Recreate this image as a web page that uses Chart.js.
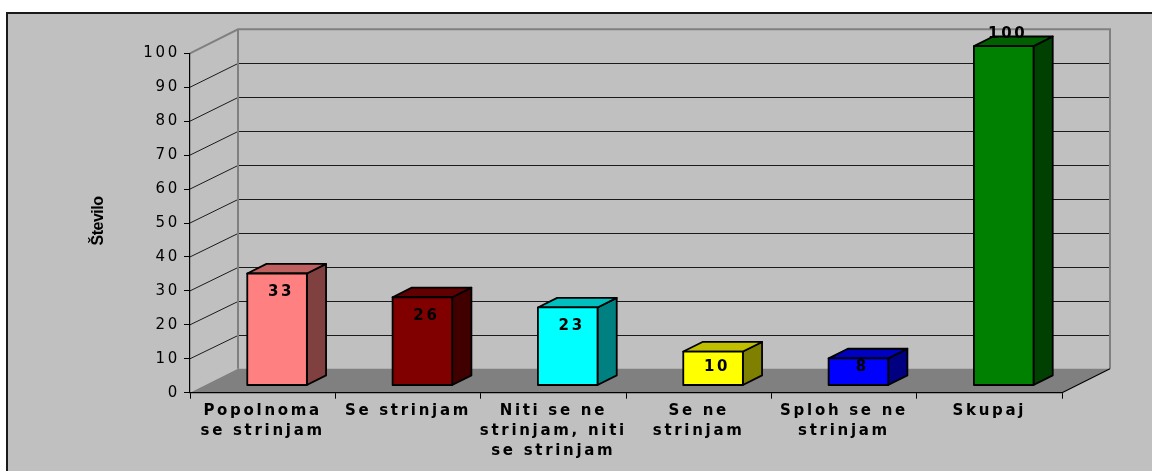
<!DOCTYPE html>
<html>
<head>
<meta charset="utf-8">
<script src="https://cdn.jsdelivr.net/npm/chart.js@4"></script>
<style>
  html, body { margin: 0; padding: 0; background: #fff; overflow: hidden; }
  #box {
    position: absolute; left: 6px; top: 12px;
    width: 1200px; height: 500px;
    border: 2px solid #1a1a1a;
    background: #c0c0c0;
  }
  canvas { display: block; }
</style>
</head>
<body>
<div id="box"><canvas id="chart" width="1144" height="457"></canvas></div>
<script>
const categories = [
  ['Popolnoma', 'se strinjam'],
  ['Se strinjam'],
  ['Niti se ne', 'strinjam, niti', 'se strinjam'],
  ['Se ne', 'strinjam'],
  ['Sploh se ne', 'strinjam'],
  ['Skupaj']
];
const values = [33, 26, 23, 10, 8, 100];
const barColors = ['#ff8080', '#800000', '#00ffff', '#ffff00', '#0000ff', '#008000'];
const yMin = 0;
const yMax = 100;
const yStep = 10;
const yTitle = 'Število';

// 3d look: depth vector of the plot box, bars sit between 30% and 70% of it
const DEPTH_X = 48;
const DEPTH_Y = -24;
const BAR_FRONT = 0.3;
const BAR_BACK = 0.7;
const SPACING = '2.7px';

function shade(hex, f) {
  const n = parseInt(hex.slice(1), 16);
  const r = Math.round(((n >> 16) & 255) * f);
  const g = Math.round(((n >> 8) & 255) * f);
  const b = Math.round((n & 255) * f);
  return `rgb(${r},${g},${b})`;
}

const crisp = v => Math.round(v) + 0.5;

const box3d = {
  id: 'box3d',
  beforeDraw(chart) {
    const ctx = chart.ctx;
    ctx.letterSpacing = SPACING;
    const { left, right } = chart.chartArea;
    const ys = chart.scales.y;
    const y0 = ys.getPixelForValue(yMin);
    const yTop = ys.getPixelForValue(yMax);

    ctx.save();
    // gridlines on back wall and left wall
    ctx.lineWidth = 1;
    for (let v = yMin + yStep; v < yMax; v += yStep) {
      const y = ys.getPixelForValue(v);
      ctx.strokeStyle = '#1a1a1a';
      ctx.beginPath();
      ctx.moveTo(left + DEPTH_X, crisp(y + DEPTH_Y));
      ctx.lineTo(right + DEPTH_X, crisp(y + DEPTH_Y));
      ctx.stroke();
      ctx.beginPath();
      ctx.moveTo(left, y);
      ctx.lineTo(left + DEPTH_X, crisp(y + DEPTH_Y));
      ctx.stroke();
    }

    // wall edges (grey)
    ctx.strokeStyle = '#808080';
    ctx.lineWidth = 2;
    ctx.beginPath();
    ctx.moveTo(left, yTop);
    ctx.lineTo(left + DEPTH_X, yTop + DEPTH_Y);
    ctx.lineTo(right + DEPTH_X, yTop + DEPTH_Y);
    ctx.lineTo(right + DEPTH_X, y0 + DEPTH_Y);
    ctx.moveTo(left + DEPTH_X, yTop + DEPTH_Y);
    ctx.lineTo(left + DEPTH_X, y0 + DEPTH_Y);
    ctx.stroke();

    // floor
    ctx.fillStyle = '#808080';
    ctx.beginPath();
    ctx.moveTo(left, y0);
    ctx.lineTo(right, y0);
    ctx.lineTo(right + DEPTH_X, y0 + DEPTH_Y);
    ctx.lineTo(left + DEPTH_X, y0 + DEPTH_Y);
    ctx.closePath();
    ctx.fill();
    ctx.strokeStyle = '#000';
    ctx.lineWidth = 1.2;
    ctx.beginPath();
    ctx.moveTo(right, y0);
    ctx.lineTo(right + DEPTH_X, y0 + DEPTH_Y);
    ctx.stroke();
    ctx.restore();
  },
  afterDatasetsDraw(chart) {
    const ctx = chart.ctx;
    const ys = chart.scales.y;
    const meta = chart.getDatasetMeta(0);
    const fx = DEPTH_X * BAR_FRONT, fy = DEPTH_Y * BAR_FRONT;
    const dx = DEPTH_X * (BAR_BACK - BAR_FRONT), dy = DEPTH_Y * (BAR_BACK - BAR_FRONT);

    ctx.save();
    ctx.lineWidth = 1.8;
    ctx.strokeStyle = '#000';
    ctx.lineJoin = 'round';
    meta.data.forEach((el, i) => {
      const p = el.getProps(['x', 'y', 'base', 'width'], true);
      const x1 = p.x - p.width / 2 + fx, x2 = p.x + p.width / 2 + fx;
      const top = p.y + fy, bot = p.base + fy;
      const col = barColors[i];

      // side
      ctx.fillStyle = shade(col, 0.5);
      ctx.beginPath();
      ctx.moveTo(x2, bot); ctx.lineTo(x2 + dx, bot + dy);
      ctx.lineTo(x2 + dx, top + dy); ctx.lineTo(x2, top);
      ctx.closePath(); ctx.fill(); ctx.stroke();
      // top
      ctx.fillStyle = shade(col, 0.75);
      ctx.beginPath();
      ctx.moveTo(x1, top); ctx.lineTo(x1 + dx, top + dy);
      ctx.lineTo(x2 + dx, top + dy); ctx.lineTo(x2, top);
      ctx.closePath(); ctx.fill(); ctx.stroke();
      // front
      ctx.fillStyle = col;
      ctx.fillRect(x1, top, x2 - x1, bot - top);
      ctx.strokeRect(x1, top, x2 - x1, bot - top);
    });

    // value labels
    ctx.fillStyle = '#000';
    ctx.font = 'bold 15px "DejaVu Sans"';
    ctx.letterSpacing = SPACING;
    ctx.textAlign = 'center';
    ctx.textBaseline = 'middle';
    meta.data.forEach((el, i) => {
      const p = el.getProps(['x', 'y', 'base'], true);
      const top = p.y + fy, bot = p.base + fy;
      let ly = values[i] >= yMax ? top - 12 : top + 19;
      if (values[i] < yMax) ly = Math.min(ly, bot - 18);
      ctx.fillText(String(values[i]), p.x + fx + 4, ly);
    });
    ctx.restore();
  },
  afterDraw(chart) {
    const ctx = chart.ctx;
    const { top, bottom } = chart.chartArea;
    ctx.save();
    ctx.translate(chart.scales.y.left + 91, (top + bottom) / 2 - 2);
    ctx.rotate(-Math.PI / 2);
    ctx.letterSpacing = '-0.5px';
    ctx.font = 'bold 16px "Liberation Sans"';
    ctx.fillStyle = '#000';
    ctx.textAlign = 'center';
    ctx.textBaseline = 'middle';
    ctx.fillText(yTitle, 0, 0);
    ctx.restore();
  }
};

new Chart(document.getElementById('chart'), {
  type: 'bar',
  data: {
    labels: categories,
    datasets: [{
      data: values,
      backgroundColor: 'rgba(0,0,0,0)',
      borderWidth: 0,
      barPercentage: 0.41,
      categoryPercentage: 1
    }]
  },
  options: {
    responsive: false,
    animation: false,
    layout: { padding: { left: 0, top: 39.3, right: 90, bottom: 0 } },
    plugins: { legend: { display: false }, tooltip: { enabled: false } },
    scales: {
      x: {
        afterFit(scale) { scale.height = 78.3; },
        grid: { drawOnChartArea: false, drawTicks: true, tickLength: 6, color: '#000', offset: true },
        border: { display: true, color: '#000', width: 1.2 },
        ticks: {
          autoSkip: false, maxRotation: 0, minRotation: 0, padding: 2,
          color: '#000',
          font: { family: 'DejaVu Sans', size: 15, weight: 'bold', lineHeight: 1.333 }
        }
      },
      y: {
        min: yMin, max: yMax,
        afterFit(scale) { scale.width = 182; },
        grid: { drawOnChartArea: false, drawTicks: true, tickLength: 6, color: '#000' },
        border: { display: true, color: '#000', width: 1.2 },
        ticks: {
          stepSize: yStep, padding: 4, color: '#000',
          font: { family: 'DejaVu Sans', size: 15 }
        }
      }
    }
  },
  plugins: [box3d]
});
</script>
</body>
</html>
